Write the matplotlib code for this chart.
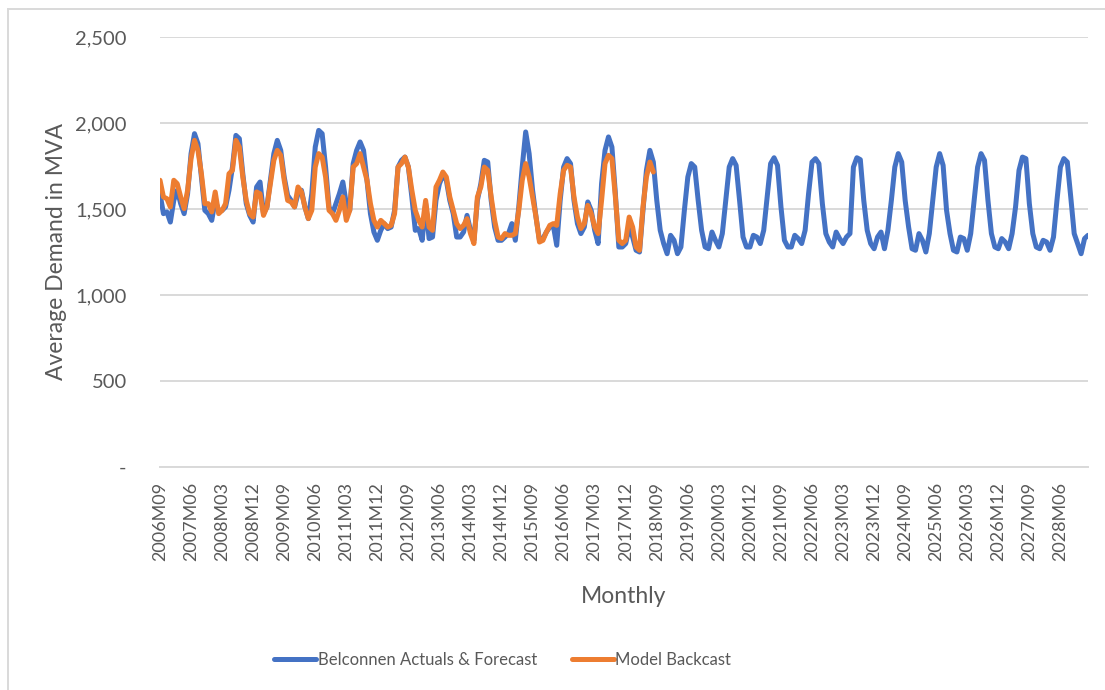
import matplotlib.pyplot as plt
import numpy as np

# months 2006M09 .. 2029M02
start_year, start_month = 2006, 9
n_months = 270
labels = []
y, m = start_year, start_month
for k in range(n_months):
    labels.append(f"{y}M{m:02d}")
    m += 1
    if m > 12:
        m = 1
        y += 1

belconnen = [
    # 2006M09 - 2007M08
    1589, 1473, 1483, 1424, 1550, 1609, 1531, 1473, 1589, 1822, 1938, 1880,
    # 2007M09 - 2008M08
    1686, 1492, 1473, 1434, 1550, 1492, 1492, 1512, 1609, 1744, 1928, 1909,
    # 2008M09 - 2009M08
    1705, 1531, 1463, 1424, 1628, 1657, 1473, 1512, 1667, 1822, 1899, 1841,
    # 2009M09 - 2010M08
    1686, 1579, 1550, 1512, 1589, 1609, 1512, 1444, 1589, 1860, 1957, 1938,
    # 2010M09 - 2011M08
    1744, 1512, 1473, 1531, 1589, 1657, 1531, 1492, 1764, 1841, 1890, 1841,
    # 2011M09 - 2012M08
    1667, 1473, 1366, 1318, 1376, 1415, 1386, 1395, 1492, 1744, 1783, 1802,
    # 2012M09 - 2013M08
    1744, 1570, 1376, 1386, 1318, 1531, 1328, 1337, 1550, 1647, 1696, 1667,
    # 2013M09 - 2014M08
    1550, 1473, 1337, 1337, 1366, 1463, 1376, 1318, 1550, 1647, 1783, 1773,
    # 2014M09 - 2015M08
    1550, 1395, 1318, 1318, 1337, 1357, 1415, 1318, 1512, 1744, 1948, 1822,
    # 2015M09 - 2016M08
    1609, 1453, 1318, 1328, 1366, 1395, 1405, 1289, 1550, 1744, 1793, 1764,
    # 2016M09 - 2017M08
    1550, 1415, 1357, 1395, 1541, 1492, 1376, 1299, 1647, 1841, 1919, 1860,
    # 2017M09 - 2018M08
    1589, 1279, 1279, 1299, 1395, 1337, 1260, 1250, 1492, 1725, 1841, 1773,
    # 2018M09 - 2019M08
    1550, 1376, 1299, 1240, 1347, 1318, 1240, 1279, 1492, 1686, 1764, 1744,
    # 2019M09 - 2020M08
    1550, 1376, 1279, 1269, 1366, 1318, 1279, 1357, 1550, 1744, 1793, 1754,
    # 2020M09 - 2021M08
    1550, 1337, 1279, 1279, 1347, 1337, 1299, 1376, 1570, 1764, 1798, 1754,
    # 2021M09 - 2022M08
    1512, 1318, 1279, 1279, 1347, 1328, 1299, 1376, 1589, 1773, 1793, 1764,
    # 2022M09 - 2023M08
    1531, 1357, 1308, 1279, 1366, 1328, 1299, 1337, 1357, 1744, 1798, 1787,
    # 2023M09 - 2024M08
    1550, 1376, 1299, 1269, 1337, 1366, 1269, 1376, 1550, 1744, 1822, 1773,
    # 2024M09 - 2025M08
    1550, 1395, 1269, 1260, 1357, 1318, 1250, 1357, 1550, 1744, 1822, 1754,
    # 2025M09 - 2026M08
    1492, 1357, 1260, 1250, 1337, 1328, 1260, 1357, 1550, 1744, 1822, 1783,
    # 2026M09 - 2027M08
    1550, 1357, 1279, 1269, 1328, 1308, 1269, 1357, 1512, 1725, 1802, 1793,
    # 2027M09 - 2028M08
    1531, 1357, 1279, 1269, 1318, 1308, 1260, 1337, 1550, 1744, 1793, 1773,
    # 2028M09 - 2029M02
    1570, 1357, 1299, 1240, 1328, 1347,
]

backcast = [
    # 2006M09 - 2007M08
    1667, 1570, 1560, 1512, 1667, 1647, 1570, 1502, 1609, 1793, 1899, 1841,
    # 2007M09 - 2008M08
    1705, 1531, 1531, 1483, 1599, 1473, 1492, 1531, 1705, 1725, 1899, 1860,
    # 2008M09 - 2009M08
    1686, 1550, 1473, 1453, 1599, 1589, 1463, 1512, 1647, 1783, 1841, 1812,
    # 2009M09 - 2010M08
    1667, 1550, 1541, 1512, 1628, 1599, 1512, 1444, 1492, 1744, 1822, 1802,
    # 2010M09 - 2011M08
    1686, 1492, 1473, 1434, 1492, 1570, 1434, 1492, 1744, 1764, 1822, 1744,
    # 2011M09 - 2012M08
    1667, 1531, 1434, 1395, 1434, 1415, 1395, 1405, 1473, 1744, 1764, 1802,
    # 2012M09 - 2013M08
    1744, 1609, 1492, 1434, 1395, 1550, 1395, 1376, 1628, 1667, 1715, 1686,
    # 2013M09 - 2014M08
    1570, 1492, 1415, 1386, 1405, 1444, 1357, 1299, 1570, 1628, 1744, 1725,
    # 2014M09 - 2015M08
    1570, 1434, 1337, 1328, 1357, 1347, 1347, 1357, 1492, 1667, 1764, 1686,
    # 2015M09 - 2016M08
    1570, 1453, 1308, 1318, 1366, 1405, 1415, 1405, 1589, 1725, 1754, 1744,
    # 2016M09 - 2017M08
    1570, 1453, 1386, 1415, 1521, 1473, 1395, 1357, 1550, 1764, 1812, 1793,
    # 2017M09 - 2018M08
    1570, 1318, 1299, 1318, 1453, 1395, 1279, 1260, 1512, 1686, 1773, 1715,
]

blue = '#4472C4'
orange = '#ED7D31'
grid_c = '#D9D9D9'
text_c = '#595959'
font = 'Lato'

fig = plt.figure(figsize=(11.05, 6.9), dpi=100)
ax = fig.add_axes([160 / 1105, 1 - 467 / 690, (1088 - 160) / 1105, (467 - 37) / 690])

x = np.arange(n_months)
ax.plot(x, belconnen, color=blue, lw=3.6, solid_capstyle='round',
        solid_joinstyle='round', label='Belconnen Actuals & Forecast')
ax.plot(np.arange(len(backcast)), backcast, color=orange, lw=3.6,
        solid_capstyle='round', solid_joinstyle='round', label='Model Backcast')

ax.set_xlim(0, n_months - 1)
ax.set_ylim(0, 2500)
ax.set_yticks([0, 500, 1000, 1500, 2000, 2500])
ax.set_yticklabels(['-', '500', '1,000', '1,500', '2,000', '2,500'],
                   fontsize=14.5, color=text_c, family=font)
ax.yaxis.grid(True, color=grid_c, lw=1.4)
ax.set_axisbelow(True)

tick_pos = x[::9]
ax.set_xticks(tick_pos)
ax.set_xticklabels([labels[i] for i in tick_pos], rotation=90,
                   fontsize=13, color=text_c, family=font)
ax.tick_params(axis='both', length=0)
ax.tick_params(axis='y', pad=24)
ax.tick_params(axis='x', pad=11)

for s in ['top', 'right', 'left']:
    ax.spines[s].set_visible(False)
ax.spines['bottom'].set_color(grid_c)
ax.spines['bottom'].set_linewidth(1.4)

ax.set_xlabel('Monthly', fontsize=16.5, color=text_c, family=font, labelpad=18)
ax.set_ylabel('Average Demand in MVA', fontsize=16.5, color=text_c, family=font,
              labelpad=6)

leg = fig.legend(loc='center', bbox_to_anchor=(0.455, 1 - 660 / 690), ncol=2,
                 frameon=False, handlelength=2.5, handletextpad=0.1,
                 columnspacing=2.1, prop={'family': font, 'size': 12})
for t in leg.get_texts():
    t.set_color(text_c)

# chart frame (only top and left edges visible)
fig.add_artist(plt.Line2D([8 / 1105, 1], [1 - 9 / 690, 1 - 9 / 690],
                          color=grid_c, lw=1.4, transform=fig.transFigure))
fig.add_artist(plt.Line2D([8 / 1105, 8 / 1105], [0, 1 - 9 / 690],
                          color=grid_c, lw=1.4, transform=fig.transFigure))

fig.savefig('out.png', dpi=100)
